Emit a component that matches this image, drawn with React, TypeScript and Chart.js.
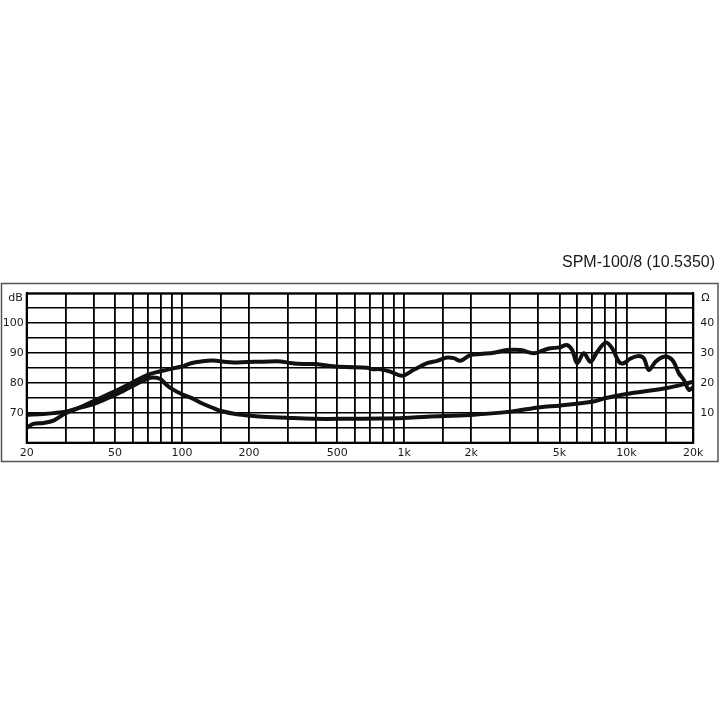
import React, { useEffect, useRef } from "react";
import { Chart, registerables } from "chart.js";

Chart.register(...registerables);

const TITLE = "SPM-100/8 (10.5350)";
const LEFT_UNIT = "dB";
const RIGHT_UNIT = "Ω";

// Frequency grid lines (Hz) and labelled ticks
const FREQ_GRID = [20, 30, 40, 50, 60, 70, 80, 90, 100, 150, 200, 300, 400, 500, 600, 700, 800, 900, 1000, 1500, 2000, 3000, 4000, 5000, 6000, 7000, 8000, 9000, 10000, 15000, 20000];
const FREQ_TICK_VALUES = [20, 50, 100, 200, 500, 1000, 2000, 5000, 10000, 20000];
const FREQ_TICK_TEXT = ["20", "50", "100", "200", "500", "1k", "2k", "5k", "10k", "20k"];

// Left axis (dB) labels
const DB_TICK_VALUES = [100, 90, 80, 70];
const DB_TICK_TEXT = ["100", "90", "80", "70"];
// Right axis (Ω) labels
const OHM_TICK_VALUES = [40, 30, 20, 10];
const OHM_TICK_TEXT = ["40", "30", "20", "10"];

// Frequency response (dB SPL)
const RESP_FREQ = [20, 21.4, 23.8, 26.4, 30, 34.8, 40, 50, 60, 70, 80, 90, 100, 110, 122, 137, 165, 197, 232, 278, 300, 330, 390, 465, 550, 680, 720, 780, 866, 977, 1103, 1268, 1406, 1559, 1671, 1790, 1985, 2203, 2529, 2904, 3336, 3830, 4247, 4551, 5000, 5400, 5700, 6000, 6430, 6890, 7390, 8060, 8630, 9250, 9730, 10440, 11380, 11980, 12620, 13520, 14750, 16080, 17230, 18150, 19110, 20000];
const RESP_DB = [65.0, 66.3, 66.6, 67.4, 69.9, 71.8, 73.9, 77.3, 80.2, 82.7, 83.9, 84.8, 85.5, 86.6, 87.2, 87.5, 86.9, 87.0, 87.1, 87.2, 86.8, 86.4, 86.3, 85.7, 85.3, 85.1, 84.6, 84.6, 83.8, 82.4, 84.4, 86.6, 87.4, 88.5, 88.3, 87.4, 89.3, 89.7, 90.1, 91.0, 91.0, 89.9, 91.0, 91.6, 91.9, 92.7, 91.0, 86.6, 89.9, 87.1, 90.4, 93.5, 91.6, 87.1, 86.6, 88.2, 89.0, 88.2, 84.3, 87.1, 88.8, 87.7, 83.2, 81.0, 77.7, 78.6];

// Impedance (Ω)
const IMP_FREQ = [20, 23.8, 26.4, 30, 35, 40, 50, 60, 70, 74, 80, 85, 90, 100, 110, 122, 137, 150, 180, 200, 232, 300, 390, 550, 780, 1000, 1270, 2000, 3000, 4100, 5000, 7200, 8000, 10000, 15000, 20000];
const IMP_OHM = [9.3, 9.6, 9.9, 10.4, 11.8, 12.9, 16.0, 19.0, 21.4, 21.8, 21.3, 19.4, 18.0, 16.2, 15.0, 13.3, 11.7, 10.6, 9.4, 9.1, 8.7, 8.3, 8.0, 8.0, 8.1, 8.3, 8.7, 9.3, 10.4, 11.9, 12.4, 13.9, 14.9, 16.3, 18.2, 20.4];

const FONT_FAMILY = "'DejaVu Sans', Verdana, sans-serif";
const FONT = { family: FONT_FAMILY, size: 11 };

const framePlugin = {
  id: "frame",
  afterDraw(chart: any) {
    const { ctx, chartArea } = chart;
    ctx.save();
    ctx.strokeStyle = "#000";
    ctx.lineWidth = 2;
    ctx.strokeRect(chartArea.left, chartArea.top, chartArea.right - chartArea.left, chartArea.bottom - chartArea.top);
    ctx.strokeStyle = "#555";
    ctx.lineWidth = 1.5;
    ctx.strokeRect(1.5, 283.5, 716.5, 178);
    ctx.fillStyle = "#1a1a1a";
    ctx.font = "16px 'Liberation Sans', Arial, sans-serif";
    ctx.textAlign = "right";
    ctx.textBaseline = "middle";
    ctx.fillText(TITLE, 715, 263);
    ctx.font = `11px ${FONT_FAMILY}`;
    ctx.fillText(LEFT_UNIT, chartArea.left - 4, chartArea.top + 5);
    ctx.textAlign = "left";
    ctx.fillText(RIGHT_UNIT, chartArea.right + 8, chartArea.top + 5);
    ctx.restore();
  },
};

export default function App() {
  const ref = useRef<HTMLCanvasElement | null>(null);
  useEffect(() => {
    if (!ref.current) return;
    const chart = new Chart(ref.current, {
      type: "line",
      data: {
        datasets: [
          {
            data: RESP_FREQ.map((f, i) => ({ x: f, y: RESP_DB[i] })),
            borderColor: "#111",
            borderWidth: 4,
            pointRadius: 0,
            tension: 0.35,
            yAxisID: "y",
          },
          {
            data: IMP_FREQ.map((f, i) => ({ x: f, y: IMP_OHM[i] })),
            borderColor: "#111",
            borderWidth: 4,
            pointRadius: 0,
            tension: 0.35,
            yAxisID: "y1",
          },
        ],
      },
      options: {
        animation: false,
        responsive: false,
        maintainAspectRatio: false,
        layout: { padding: { top: 293.3, left: 0, right: 0, bottom: 0 } },
        plugins: { legend: { display: false }, tooltip: { enabled: false }, title: { display: false } },
        scales: {
          x: {
            type: "logarithmic",
            min: 20,
            max: 20000,
            afterBuildTicks: (s: any) => {
              s.ticks = FREQ_GRID.map((v) => ({ value: v }));
            },
            afterFit: (s: any) => {
              s.height = 720 - 442.7;
            },
            ticks: {
              autoSkip: false,
              maxRotation: 0,
              minRotation: 0,
              padding: 4,
              color: "#1a1a1a",
              font: FONT,
              callback: (v: any) => {
                const i = FREQ_TICK_VALUES.indexOf(Number(v));
                return i >= 0 ? FREQ_TICK_TEXT[i] : "";
              },
            },
            grid: { color: "#000", lineWidth: 1.8, drawTicks: false },
            border: { display: true, color: "#000", width: 2 },
          },
          y: {
            position: "left",
            min: 60,
            max: 110,
            afterFit: (s: any) => {
              s.width = 26.7;
            },
            ticks: {
              stepSize: 5,
              autoSkip: false,
              padding: 3,
              color: "#1a1a1a",
              font: FONT,
              callback: (v: any) => {
                const i = DB_TICK_VALUES.indexOf(Number(v));
                return i >= 0 ? DB_TICK_TEXT[i] : "";
              },
            },
            grid: { color: "#000", lineWidth: 1.6, drawTicks: false },
            border: { display: true, color: "#000", width: 2 },
          },
          y1: {
            position: "right",
            min: 0,
            max: 50,
            afterFit: (s: any) => {
              s.width = 26.7;
            },
            ticks: {
              stepSize: 5,
              autoSkip: false,
              padding: 7,
              color: "#1a1a1a",
              font: FONT,
              callback: (v: any) => {
                const i = OHM_TICK_VALUES.indexOf(Number(v));
                return i >= 0 ? OHM_TICK_TEXT[i] : "";
              },
            },
            grid: { display: false, drawTicks: false },
            border: { display: true, color: "#000", width: 2 },
          },
        },
      },
      plugins: [framePlugin],
    } as any);
    return () => chart.destroy();
  }, []);
  return (
    <div style={{ position: "absolute", left: 0, top: 0, width: 720, height: 720, background: "#fff" }}>
      <canvas ref={ref} width={720} height={720} />
    </div>
  );
}
